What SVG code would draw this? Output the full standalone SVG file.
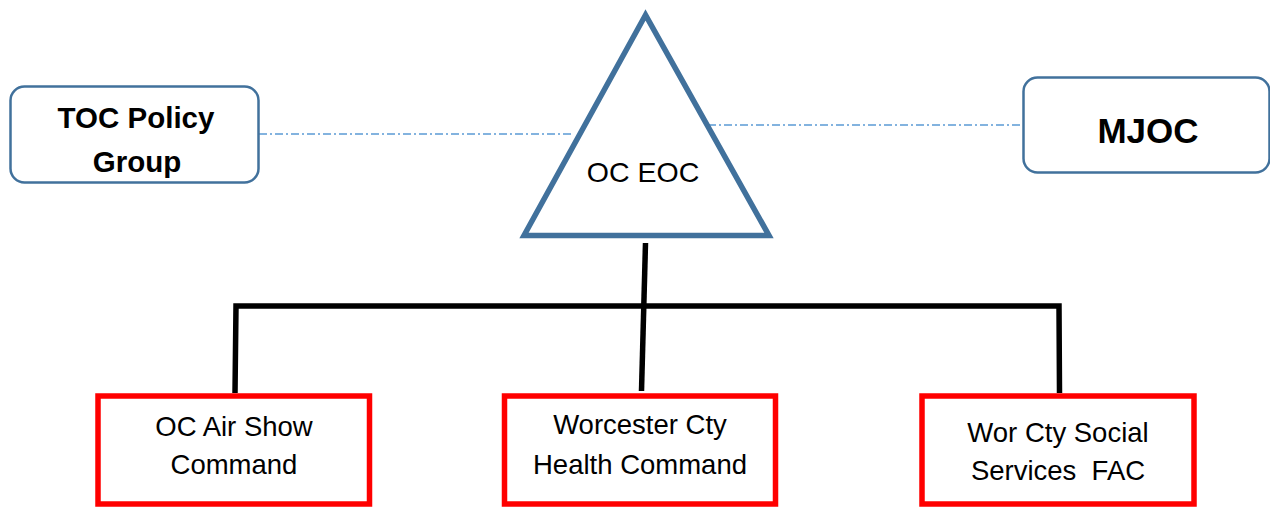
<svg xmlns="http://www.w3.org/2000/svg" width="1270" height="508" viewBox="0 0 1270 508">
<style>
.rbox{fill:#fff;stroke:#41719C;stroke-width:2.5}
.red{fill:#fff;stroke:#FF0000;stroke-width:5.5}
.tri{fill:#fff;stroke:#41719C;stroke-width:5.5;stroke-linejoin:miter}
.dd{fill:none;stroke:#5B9BD5;stroke-width:1.5;stroke-dasharray:8 3 2 3}
.blk{fill:none;stroke:#000;stroke-width:5.5}
text{font-family:"Liberation Sans",Arial,sans-serif;fill:#000;text-anchor:middle}
.b{font-weight:bold}
</style>
<g id="connectors">
<line class="dd" x1="259" y1="134" x2="574" y2="134"/>
<line class="dd" x1="708" y1="125" x2="1023" y2="125"/>
<line class="blk" x1="645.5" y1="243" x2="641.5" y2="391"/>
<polyline class="blk" points="235,393 236,306 1059,306 1059.5,393"/>
</g>
<g id="toc">
<rect class="rbox" x="10.5" y="86.5" width="248" height="96" rx="14"/>
<text class="b" x="136" y="128" font-size="29.5">TOC Policy</text>
<text class="b" x="137" y="172" font-size="29.5">Group</text>
</g>
<g id="oceoc">
<polygon class="tri" points="645.5,15 524,235.5 769,235.5"/>
<text x="643" y="182" font-size="28.5">OC EOC</text>
</g>
<g id="mjoc">
<rect class="rbox" x="1023.5" y="77.5" width="246" height="95" rx="14"/>
<text class="b" x="1148" y="142.5" font-size="35">MJOC</text>
</g>
<g id="airshow">
<rect class="red" x="98" y="396" width="271.5" height="108"/>
<text x="234" y="436" font-size="27.5">OC Air Show</text>
<text x="234" y="474" font-size="27.5">Command</text>
</g>
<g id="health">
<rect class="red" x="504.5" y="396" width="271" height="108"/>
<text x="640" y="433.5" font-size="27.5">Worcester Cty</text>
<text x="640" y="473.5" font-size="27.5">Health Command</text>
</g>
<g id="social">
<rect class="red" x="922" y="396" width="272" height="108"/>
<text x="1058" y="442" font-size="27.5">Wor Cty Social</text>
<text x="1058" y="480" font-size="27.5" xml:space="preserve">Services  FAC</text>
</g>
</svg>
